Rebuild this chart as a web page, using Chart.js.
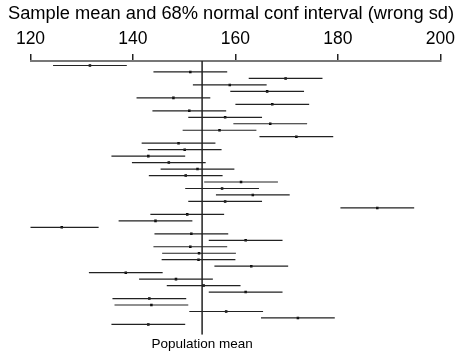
<!DOCTYPE html>
<html>
<head>
<meta charset="utf-8">
<script src="https://cdn.jsdelivr.net/npm/chart.js@4"></script>
<style>
  html, body { margin: 0; padding: 0; background: #fff; }
  #wrap { width: 462px; height: 354px; }
</style>
</head>
<body>
<div id="wrap"><canvas id="chart"></canvas></div>
<script>
// sample means, one per simulated sample (top to bottom)
const sampleMeans = [
  131.6, 151.2, 169.8, 158.9, 166.2, 147.9, 167.2, 151.0, 158.0, 166.8,
  156.9, 171.9, 148.9, 150.1, 143.0, 147.0, 152.6, 150.3, 161.1, 157.4,
  163.4, 158.0, 187.7, 150.6, 144.4, 126.1, 151.4, 162.0, 151.2, 152.9,
  152.8, 163.1, 138.6, 148.4, 153.8, 162.0, 143.2, 143.6, 158.2, 172.2,
  143.0
];
const halfWidth = 7.2;          // half length of each interval
const populationMean = 153.5;
const xTicks = [120, 140, 160, 180, 200];

const rows = sampleMeans.map((m, i) => i + 1);

// each interval is a segment; null points break the line between rows
const intervalPts = [];
sampleMeans.forEach((m, i) => {
    intervalPts.push({ x: m - halfWidth, y: rows[i] });
    intervalPts.push({ x: m + halfWidth, y: rows[i] });
    intervalPts.push({ x: null, y: null });
});
const meanPts = sampleMeans.map((m, i) => ({ x: m, y: rows[i] }));

const yMin = 0.3, yMax = 42.6;
const fontFamily = '"Liberation Sans", Arial, Helvetica, sans-serif';

// empty side axes just reserve margin, so the title keeps the full width
const spacer = w => ({
    type: 'linear',
    display: true,
    grid: { display: false, drawTicks: false },
    border: { display: false },
    ticks: { display: false },
    afterFit: axis => { axis.width = w; }
});

const ctx = document.getElementById('chart').getContext('2d');
const myChart = new Chart(ctx, {
    type: 'scatter',
    data: {
        datasets: [{
            data: intervalPts,
            showLine: true,
            spanGaps: false,
            borderColor: '#222',
            borderWidth: 1.2,
            pointRadius: 0
        }, {
            data: meanPts,
            pointStyle: 'rect',
            pointRadius: 1.8,
            backgroundColor: '#000',
            borderColor: '#000',
            borderWidth: 0
        }, {
            data: [{ x: populationMean, y: yMin }, { x: populationMean, y: yMax }],
            showLine: true,
            borderColor: '#222',
            borderWidth: 1.5,
            pointRadius: 0
        }]
    },
    options: {
        responsive: true,
        maintainAspectRatio: false,
        animation: false,
        layout: { padding: { left: 0, right: 0, top: 0, bottom: 1 } },
        plugins: {
            legend: { display: false },
            tooltip: { enabled: false },
            title: {
                display: true,
                text: 'Sample mean and 68% normal conf interval (wrong sd)',
                color: '#000',
                font: { family: fontFamily, size: 18.3, weight: 'normal' },
                padding: { top: 3, bottom: 0 }
            }
        },
        scales: {
            x: {
                type: 'linear',
                position: 'top',
                min: 120,
                max: 200,
                afterBuildTicks: axis => { axis.ticks = xTicks.map(v => ({ value: v })); },
                grid: { drawOnChartArea: false, drawTicks: true, tickLength: 7, color: '#222', lineWidth: 1.5 },
                border: { color: '#777', width: 2 },
                ticks: {
                    color: '#000',
                    padding: 4,
                    maxRotation: 0,
                    font: { family: fontFamily, size: 17.5 }
                }
            },
            x2: {
                type: 'linear',
                position: 'bottom',
                min: 120,
                max: 200,
                afterBuildTicks: axis => { axis.ticks = [{ value: populationMean }]; },
                grid: { display: false, drawTicks: false },
                border: { display: false },
                ticks: {
                    color: '#000',
                    padding: 1,
                    maxRotation: 0,
                    font: { family: fontFamily, size: 13.5 },
                    callback: () => 'Population mean'
                }
            },
            y: {
                type: 'linear',
                reverse: true,
                min: yMin,
                max: yMax,
                position: 'left',
                ...spacer(30.5)
            },
            yRight: {
                position: 'right',
                ...spacer(21.7)
            }
        }
    }
});
</script>
</body>
</html>
